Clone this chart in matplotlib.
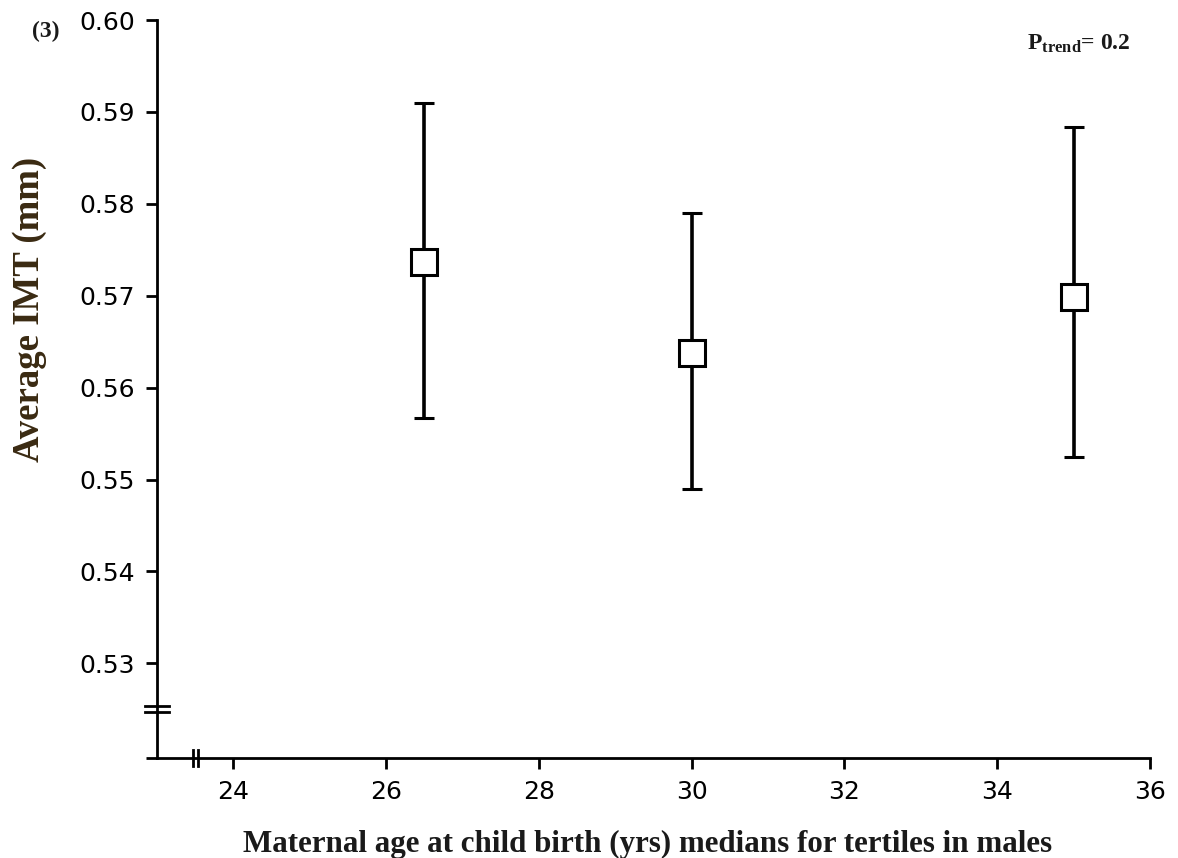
import matplotlib
matplotlib.use("Agg")
import matplotlib.pyplot as plt

plt.rcParams['mathtext.fontset'] = 'custom'
plt.rcParams['mathtext.bf'] = 'Liberation Serif:bold'
plt.rcParams['mathtext.rm'] = 'Liberation Serif:bold'

# Data
age_medians = [26.5, 30.0, 35.0]
imt_mean = [0.5737, 0.5638, 0.5699]
ci_lower = [0.5567, 0.5490, 0.5524]
ci_upper = [0.5910, 0.5790, 0.5884]
xticks = [24, 26, 28, 30, 32, 34, 36]
yticks = [0.53, 0.54, 0.55, 0.56, 0.57, 0.58, 0.59, 0.60]
ytick_labels = ["0.53", "0.54", "0.55", "0.56", "0.57", "0.58", "0.59", "0.60"]

fig = plt.figure(figsize=(11.78, 8.58), dpi=100)
ax = fig.add_axes([157/1178, 1-758/858, (1150-157)/1178, (758-20)/858])

yerr = [[m - l for m, l in zip(imt_mean, ci_lower)],
        [u - m for m, u in zip(imt_mean, ci_upper)]]
ax.errorbar(age_medians, imt_mean, yerr=yerr, fmt='s', color='black',
            ecolor='black', elinewidth=2.6, capsize=7.5, capthick=2.6,
            markersize=19, markerfacecolor='white', markeredgecolor='black',
            markeredgewidth=2.2, zorder=3)

ax.set_xlim(23, 36)
ax.set_ylim(0.5197, 0.60)
ax.spines['top'].set_visible(False)
ax.spines['right'].set_visible(False)
for s in ['left', 'bottom']:
    ax.spines[s].set_linewidth(2.0)

ax.set_xticks(xticks)
ax.set_xticklabels([str(t) for t in xticks])
ax.set_yticks([0.5197] + yticks)
ax.set_yticklabels([""] + ytick_labels)
ax.tick_params(axis='both', direction='out', length=8, width=2.0,
               labelsize=18, pad=8)

# axis break marks
tr = ax.transAxes
for dy in (-0.004, 0.004):
    ax.plot([-0.012, 0.012], [(0.525-0.5197)/(0.60-0.5197) + dy]*2,
            transform=tr, color='black', lw=2.0, clip_on=False, zorder=5)
    ax.plot([(23.5-23)/13 + dy*0.6]*2, [-0.011, 0.011],
            transform=tr, color='black', lw=2.0, clip_on=False, zorder=5)

fig.text(648/1178, 1-844/858,
         "Maternal age at child birth (yrs) medians for tertiles in males",
         ha='center', va='center', fontsize=22.3, fontweight='bold',
         fontfamily='Liberation Serif', color='#1a1a1a')
fig.text(30/1178, 1-309/858, "Average IMT (mm)", rotation=90,
         ha='center', va='center', fontsize=26.5, fontweight='bold',
         fontfamily='Liberation Serif', color='#3a2a12')
fig.text(46/1178, 1-31/858, "(3)", ha='center', va='center', fontsize=17,
         fontweight='bold', fontfamily='Liberation Serif', color='#1a1a1a')
fig.text(1079/1178, 1-44/858, r"$\mathbf{P_{trend}}$= 0.2", ha='center',
         va='center', fontsize=17, fontweight='bold',
         fontfamily='Liberation Serif', color='#1a1a1a')

fig.savefig("out.png", dpi=100, facecolor='white')
